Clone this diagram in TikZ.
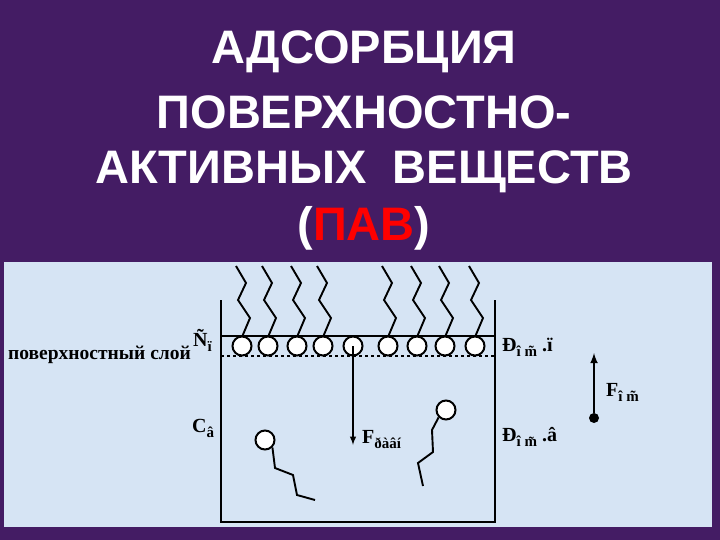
\documentclass[tikz,border=0pt]{standalone}
\usepackage{fontspec}
\setmainfont{Liberation Serif}
\newfontfamily\titlefont{Liberation Sans}
\newcommand{\sbs}[1]{\raisebox{-0.25em}{\fontsize{15}{17}\selectfont #1}}
\begin{document}
\begin{tikzpicture}[x=1pt,y=-1pt,
  ln/.style={line width=2.4pt},
  tl/.style={line width=1.9pt},
  head/.style={circle,draw,line width=2pt,fill=white,minimum size=19pt,inner sep=0pt},
  lbl/.style={font=\bfseries\fontsize{20}{22}\selectfont,inner sep=0pt,anchor=west},
  ttl/.style={font=\titlefont\bfseries\fontsize{47}{50}\selectfont,text=white}]
\definecolor{bgp}{RGB}{68,28,100}
\definecolor{pan}{RGB}{214,228,244}
\fill[bgp] (0,0) rectangle (720,540);
\useasboundingbox (0,0) rectangle (720,540);
\fill[pan] (4,262) rectangle (712,527);
\node[ttl] (t1) at (364,52) {АДСОРБЦИЯ};
\node[ttl] (t2) at (364,112) {ПОВЕРХНОСТНО-};
\node[ttl] (t3) at (364,172) {АКТИВНЫХ\ \ ВЕЩЕСТВ};
\node[ttl] (t4) at (364,228) {(\textcolor{red}{ПАВ})};
% beaker
\draw[ln] (221,300) -- (221,522) -- (495,522) -- (495,300);
\draw[ln] (221,336) -- (495,336);
\draw[dashed,line width=1.2pt] (221,356) -- (495,356);
\foreach \x in {242,268,297,323,388,417,445,475}{
  \draw[tl] (\x,337) -- (\x+8,318) -- (\x-4,300) -- (\x+4,283) -- (\x-6,266);
}
\foreach \x [count=\i] in {242,268,297,323,353,388,417,445,475}{
  \node[head] (h\i) at (\x,346) {};
}
\coordinate (fa) at (353,445);
\draw[tl,-latex] (h5.center) -- (fa);
\node[lbl] (fr) at (362,440) {F\sbs{ðàâí}};
% bulk molecules
\node[head] (m1) at (265,440) {};
\draw[tl] (m1.south east) -- (275,468) -- (293,475) -- (297,495) -- (315,500);
\node[head] (m2) at (446,410) {};
\draw[tl] (m2.south west) -- (432,430) -- (433,452) -- (418,463) -- (423,486);
% labels
\node[font=\fontsize{19.5}{21}\selectfont\bfseries,anchor=west,inner sep=0pt] (ps) at (8,355) {поверхностный слой};
\node[lbl] (sp) at (193,340) {Ñ\sbs{ï}};
\node[lbl] (sv) at (192,428) {C\sbs{â}};
\node[lbl] (rp) at (502,347) {Ð\sbs{î m̃} .ï};
\node[lbl] (rv) at (502,437) {Ð\sbs{î m̃} .â};
\node[circle,fill,inner sep=0pt,minimum size=10pt] (dot) at (594,418) {};
\coordinate (up) at (594,353);
\draw[ln,-latex] (dot) -- (up);
\node[lbl] (fo) at (606,392) {F\sbs{î m̃}};
\end{tikzpicture}
\end{document}
